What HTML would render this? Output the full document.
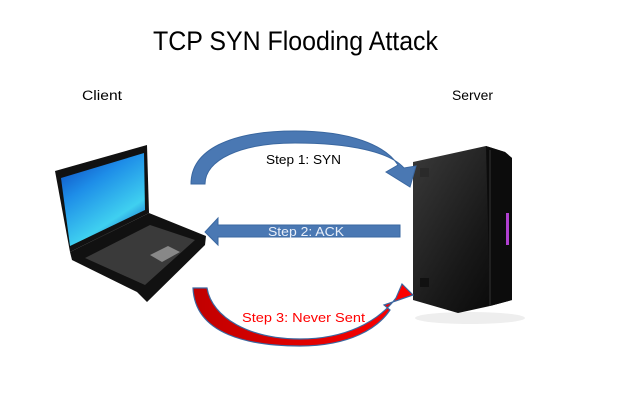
<!DOCTYPE html>
<html><head><meta charset="utf-8"><style>
html,body{margin:0;padding:0;background:#fff;width:624px;height:415px;overflow:hidden}
</style></head><body>
<svg width="624" height="415" viewBox="0 0 624 415" xmlns="http://www.w3.org/2000/svg" font-family="Liberation Sans, sans-serif">
<defs>
<linearGradient id="scr" x1="0" y1="0" x2="0.6" y2="1">
<stop offset="0" stop-color="#0a3fb8"/><stop offset="0.4" stop-color="#1e8ee8"/><stop offset="0.8" stop-color="#3fd0f0"/><stop offset="1" stop-color="#1a70d0"/></linearGradient>
<linearGradient id="srv" x1="0" y1="0" x2="1" y2="1">
<stop offset="0" stop-color="#3a3a3a"/><stop offset="0.6" stop-color="#181818"/><stop offset="1" stop-color="#050505"/></linearGradient>
<linearGradient id="red" x1="0" y1="0" x2="1" y2="0">
<stop offset="0" stop-color="#c00000"/><stop offset="1" stop-color="#ff0000"/></linearGradient>
</defs>
<text x="153" y="50" font-size="27" textLength="285" lengthAdjust="spacingAndGlyphs" fill="#000">TCP SYN Flooding Attack</text>
<text x="82" y="100" font-size="13.5" textLength="40" lengthAdjust="spacingAndGlyphs">Client</text>
<text x="452" y="100" font-size="13.5" textLength="41" lengthAdjust="spacingAndGlyphs">Server</text>

<!-- laptop -->
<polygon points="55,171 147,145 149,213 70,252" fill="#111"/>
<polygon points="61,178 144,153 145,210 70,246" fill="url(#scr)"/>
<polygon points="70,252 149,213 206,236 205,245 147,302 137,292 72,260" fill="#111"/>
<polygon points="85,258 150,225 195,240 145,285" fill="#3a3a3a"/>
<polygon points="150,255 168,246 180,252 162,262" fill="#888"/>

<!-- server -->
<ellipse cx="470" cy="318" rx="55" ry="6" fill="#eee"/>
<polygon points="413,162 486,146 505,152 512,158 512,300 490,306 458,313 413,300" fill="url(#srv)"/>
<polygon points="486,146 505,152 512,158 512,300 490,306" fill="#0c0c0c"/>
<line x1="490" y1="150" x2="490" y2="306" stroke="#333"/>
<rect x="420" y="168" width="9" height="9" fill="#2a2a2a"/>
<rect x="420" y="278" width="9" height="9" fill="#111"/>
<rect x="506" y="213" width="3" height="32" fill="#b040d0"/>

<!-- step1 arc -->
<path d="M191,184 C191,150 230,131 295,131 C350,131 385,145 398,165 L386,172 L410,187 L416,166 L404,168 C390,152 350,143 295,143 C240,143 205,160 205,184 Z" fill="#4a78b3" stroke="#3a67a0" stroke-width="1"/>
<text x="266" y="164" font-size="13" textLength="75" lengthAdjust="spacingAndGlyphs">Step 1: SYN</text>

<!-- step2 -->
<polygon points="400,225 218,225 218,218 205,232 218,245 218,237 400,237" fill="#4a78b3" stroke="#3a67a0"/>
<text x="268" y="236" font-size="13" fill="#e8eef8" textLength="76" lengthAdjust="spacingAndGlyphs">Step 2: ACK</text>

<!-- step3 -->
<path d="M193,288 C195,335 250,346 300,346 C350,346 378,328 390,310 L384,305 L413,295 L402,284 L396,298 C378,322 345,339 300,339 C250,339 212,318 207,288 Z" fill="url(#red)" stroke="#3a67a0" stroke-width="1.2"/>
<text x="242" y="322" font-size="13" fill="#ff0000" textLength="123" lengthAdjust="spacingAndGlyphs">Step 3: Never Sent</text>
</svg>
</body></html>
